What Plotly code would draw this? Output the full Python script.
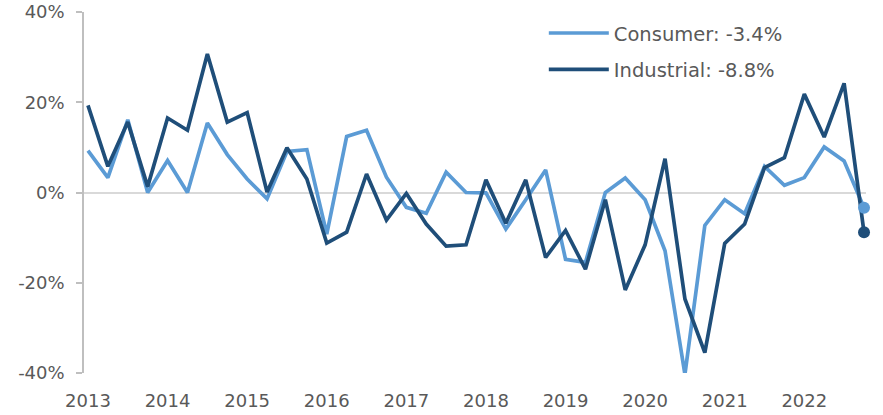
import plotly.graph_objects as go

quarters = list(range(40))  # 2013 Q1 .. 2022 Q4
year_ticks = [0, 4, 8, 12, 16, 20, 24, 28, 32, 36]
year_labels = ["2013", "2014", "2015", "2016", "2017", "2018", "2019", "2020", "2021", "2022"]

consumer = [9.3, 3.3, 16.1, 0.0, 7.1, 0.0, 15.4, 8.4, 3.0, -1.4,
            9.1, 9.5, -9.2, 12.4, 13.8, 3.4, -3.3, -4.6, 4.5, 0.0,
            -0.1, -8.1, -1.6, 5.0, -14.8, -15.5, 0.0, 3.2, -1.6, -12.9,
            -40.3, -7.3, -1.6, -4.7, 5.8, 1.6, 3.3, 10.1, 7.0, -3.4]
industrial = [19.3, 5.8, 15.6, 1.3, 16.5, 13.8, 30.7, 15.6, 17.7, 0.1,
              9.9, 3.0, -11.2, -8.8, 4.1, -6.1, -0.2, -7.0, -11.9, -11.6,
              2.8, -6.8, 2.8, -14.4, -8.4, -17.0, -1.6, -21.6, -11.6, 7.5,
              -23.6, -35.5, -11.3, -7.0, 5.5, 7.7, 21.8, 12.3, 24.2, -8.8]

y_ticks = [-40, -20, 0, 20, 40]
y_labels = ["-40%", "-20%", "0%", "20%", "40%"]

c_light = "#5B9BD5"
c_dark = "#1F4E79"
txt = "#595959"
axis_gray = "#BFBFBF"
font_family = "DejaVu Sans"

fig = go.Figure()
fig.add_trace(go.Scatter(x=quarters, y=consumer, mode="lines",
                         name="Consumer: -3.4%", legendgroup="c",
                         line=dict(color=c_light, width=3.7)))
fig.add_trace(go.Scatter(x=quarters, y=industrial, mode="lines",
                         name="Industrial: -8.8%", legendgroup="i",
                         line=dict(color=c_dark, width=3.7)))
fig.add_trace(go.Scatter(x=[quarters[-1]], y=[consumer[-1]], mode="markers",
                         showlegend=False, cliponaxis=False,
                         marker=dict(color=c_light, size=12)))
fig.add_trace(go.Scatter(x=[quarters[-1]], y=[industrial[-1]], mode="markers",
                         showlegend=False, cliponaxis=False,
                         marker=dict(color=c_dark, size=12)))

fig.update_layout(
    width=883, height=415,
    margin=dict(l=84, r=17, t=12, b=42, autoexpand=False),
    paper_bgcolor="white", plot_bgcolor="white",
    font=dict(family=font_family, size=18, color=txt),
    showlegend=True,
    legend=dict(x=0.588, y=0.995, xanchor="left", yanchor="top",
                bgcolor="rgba(0,0,0,0)", traceorder="grouped",
                tracegroupgap=8, itemwidth=60,
                font=dict(family=font_family, size=19.5, color=txt)),
    xaxis=dict(range=[-0.2, 39.1], tickmode="array", tickvals=year_ticks,
               ticktext=year_labels, showgrid=False, zeroline=False,
               showline=False, ticks="outside", ticklen=11, automargin=False,
               tickcolor="rgba(0,0,0,0)", tickfont=dict(size=18, color=txt)),
    yaxis=dict(range=[-40, 40], tickmode="array", tickvals=y_ticks,
               ticktext=y_labels, showgrid=False, zeroline=True,
               zerolinecolor="#D9D9D9", zerolinewidth=2, automargin=False,
               showline=True, linecolor=axis_gray, linewidth=1.5,
               ticks="outside", ticklen=6, tickcolor=axis_gray, tickwidth=1.5,
               ticklabelstandoff=8, ticklabeloverflow="allow",
               tickfont=dict(size=18, color=txt)),
)

# remove the page's default 8px body margin so the figure sits at the window origin
fig.write_html("out.html", config={"displayModeBar": False},
               post_script="document.body.style.margin='0';")
